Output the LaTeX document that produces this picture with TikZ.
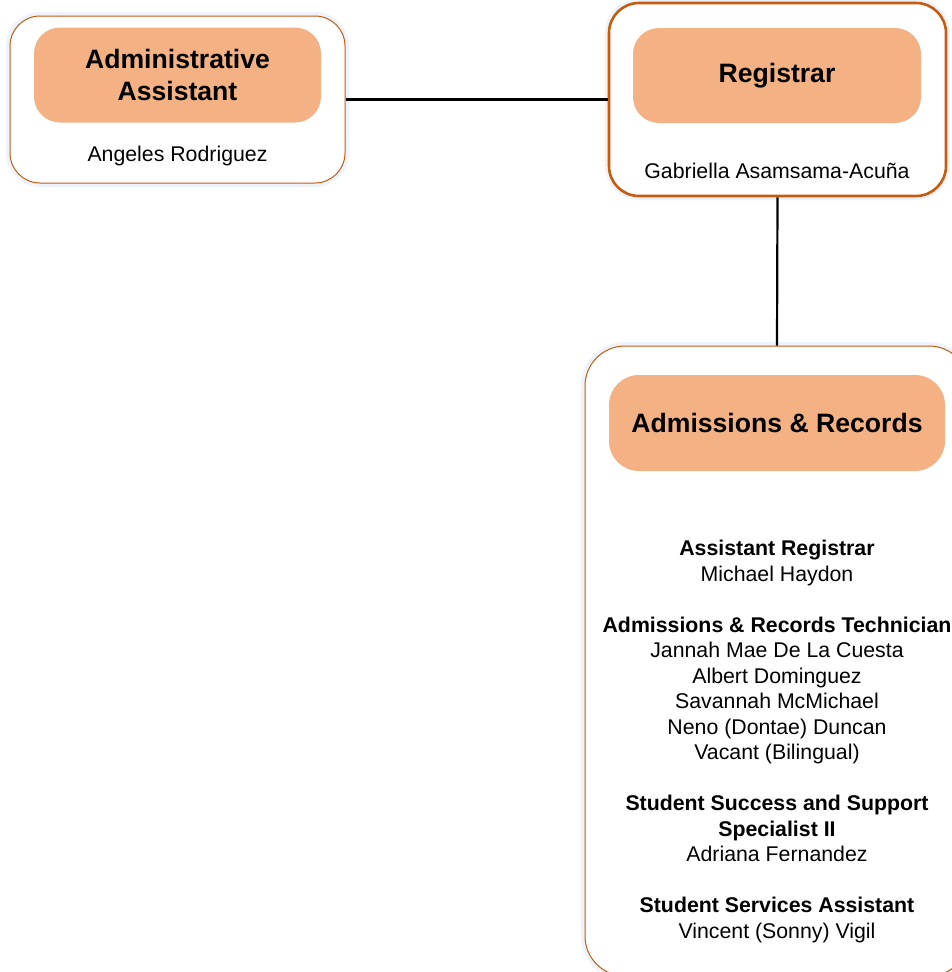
\documentclass[tikz,border=0pt]{standalone}
\usepackage{fontspec}
\setmainfont{Liberation Sans}

\definecolor{boxline}{HTML}{C55A11}
\definecolor{titlefill}{HTML}{F4B183}
\definecolor{glowcol}{HTML}{EEF2F9}

\tikzset{
            unitbox/.style = {draw=boxline, fill=white, line width=1pt, rounded corners=30pt, inner sep=0pt,
                preaction={draw=glowcol, line width=8pt}},
            titlebox/.style = {fill=titlefill, rounded corners=26pt, inner sep=0pt, align=center,
                font={\fontsize{26.6}{32}\selectfont\bfseries}},
            persontext/.style = {align=center, inner sep=0pt, font={\fontsize{21.3}{25.5}\selectfont}},
            link/.style = {draw=black, line width=2.2pt}
        }

\begin{document}
\begin{tikzpicture}[x=1pt, y=-1pt]
            \clip (0, 0) rectangle (952, 972);

            \node[unitbox, minimum width=335pt, minimum height=167pt] (adminunit) at (177.5, 99.5) {};
            \node[titlebox, minimum width=287pt, minimum height=95pt] (admintitle) at (177.5, 75) {Administrative\\Assistant};
            \node[persontext] (adminname) at (177.5, 155.5) {Angeles Rodriguez};

            \node[unitbox, line width=2.6pt, minimum width=337pt, minimum height=193pt] (regunit) at (777.5, 99.5) {};
            \node[titlebox, minimum width=288pt, minimum height=95pt] (regtitle) at (777, 75.5) {Registrar};
            \node[persontext] (regname) at (777, 171) {Gabriella Asamsama-Acuña};

            \node[unitbox, rounded corners=40pt, minimum width=384pt, minimum height=630pt] (recunit) at (777, 661) {};
            \node[titlebox, rounded corners=30pt, minimum width=336pt, minimum height=96pt] (rectitle) at (777, 423) {Admissions \& Records};
            \node[persontext] (recstaff) at (777, 741.5) {%
                \textbf{Assistant Registrar}\\ Michael Haydon\\[25.5pt]
                \textbf{Admissions \& Records Technician}\\ Jannah Mae De La Cuesta\\ Albert Dominguez\\
                Savannah McMichael\\ Neno (Dontae) Duncan\\ Vacant (Bilingual)\\[25.5pt]
                \textbf{Student Success and Support}\\ \textbf{Specialist II}\\ Adriana Fernandez\\[25.5pt]
                \textbf{Student Services Assistant}\\ Vincent (Sonny) Vigil};

            \draw[link] (adminunit.east) -- (regunit.west);
            \draw[link] (regunit.south) -- (recunit.north);
        \end{tikzpicture}
\end{document}
